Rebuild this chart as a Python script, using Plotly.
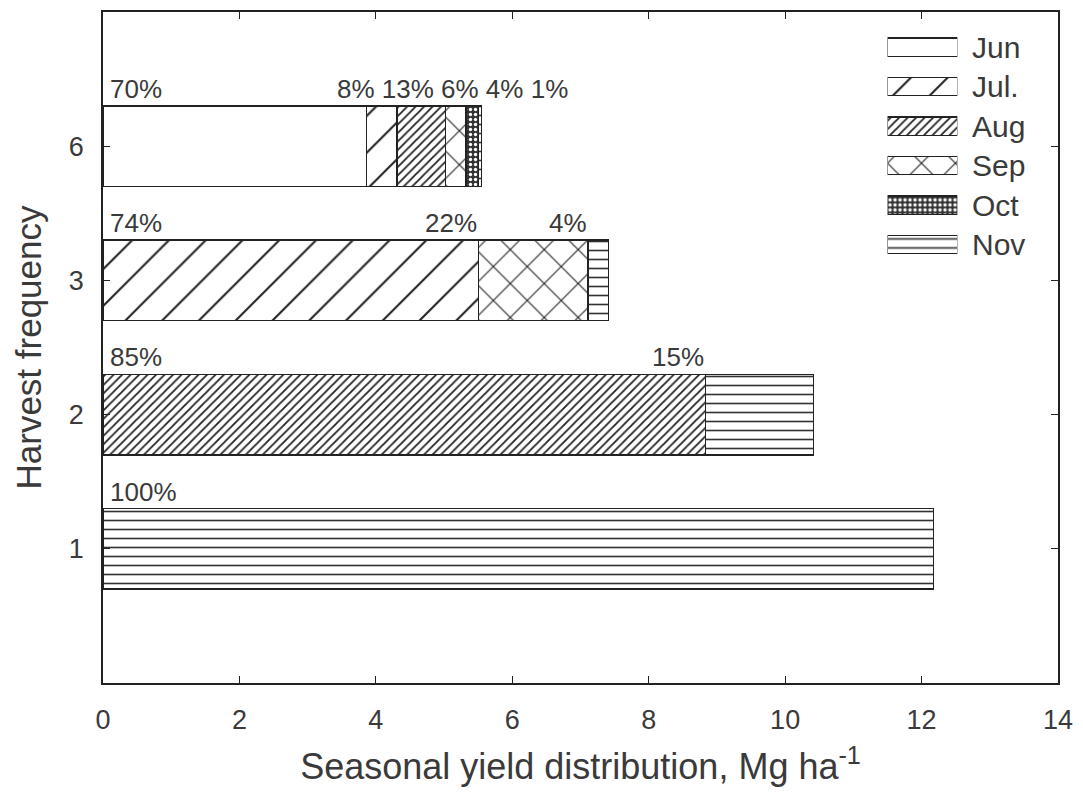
import plotly.graph_objects as go

# ---------------- data ----------------
freq_labels = ["1", "2", "3", "6"]          # harvest frequency categories
months = ["Jun", "Jul.", "Aug", "Sep", "Oct", "Nov"]

jun = [None, None, None, 3.86]
jul = [None, None, 5.50, 0.45]
aug = [None, 8.83, None, 0.71]
sep = [None, None, 1.61, 0.30]
octo = [None, None, None, 0.18]
nov = [12.17, 1.59, 0.30, 0.05]
series = [jun, jul, aug, sep, octo, nov]

pct_jun = [None, None, None, "70%"]
pct_jul = [None, None, "74%", "8%"]
pct_aug = [None, "85%", None, "13%"]
pct_sep = [None, None, "22%", "6%"]
pct_oct = [None, None, None, "4%"]
pct_nov = ["100%", "15%", "4%", "1%"]
pcts = [pct_jun, pct_jul, pct_aug, pct_sep, pct_oct, pct_nov]

# ---------------- styles ----------------
FONT = "Liberation Sans, Arial, sans-serif"
TXT = "#3a3a3a"
patterns = {
    "Jun": dict(shape="", bgcolor="white", fgcolor="#222"),
    "Jul.": dict(shape="/", size=26, solidity=0.08, bgcolor="white", fgcolor="#222"),
    "Aug": dict(shape="/", size=6, solidity=0.3, bgcolor="white", fgcolor="#222"),
    "Sep": dict(shape="x", size=24, solidity=0.09, bgcolor="white", fgcolor="#222"),
    "Oct": dict(shape=".", size=5, solidity=0.35, bgcolor="#333", fgcolor="white"),
    "Nov": dict(shape="-", size=9, solidity=0.18, bgcolor="white", fgcolor="#333"),
}

fig = go.Figure()
ypos = list(range(1, len(freq_labels) + 1))

for m, vals in zip(months, series):
    fig.add_trace(go.Bar(
        x=vals, y=ypos, orientation="h", width=0.6, name=m, showlegend=False,
        marker=dict(color="white", line=dict(color="#222", width=1.3),
                    pattern=dict(fillmode="replace", **patterns[m])),
        hoverinfo="skip",
    ))

# legend drawn as bars on a small inset axis
for i, m in enumerate(months):
    fig.add_trace(go.Bar(
        x=[1], y=[i], orientation="h", width=0.46, xaxis="x2", yaxis="y2",
        showlegend=False, hoverinfo="skip",
        marker=dict(color="white", line=dict(color="#222", width=1.3),
                    pattern=dict(fillmode="replace", **patterns[m])),
    ))
    fig.add_annotation(x=1, y=i, xref="x2", yref="y2", text=m, showarrow=False,
                       xanchor="left", xshift=13,
                       font=dict(family=FONT, size=30, color=TXT))

# percentage labels
for bi, yv in enumerate(ypos):
    cum = 0.0
    segs = []
    for vals, pl in zip(series, pcts):
        v = vals[bi]
        if v is not None:
            segs.append((cum, pl[bi]))
            cum += v
    # first label at bar start
    fig.add_annotation(x=segs[0][0], y=yv + 0.3, text=segs[0][1], showarrow=False,
                       xanchor="left", yanchor="bottom", xshift=5,
                       font=dict(family=FONT, size=26, color=TXT))
    rest = segs[1:]
    if len(rest) > 3:
        # crowded bar: labels written one after another
        fig.add_annotation(x=rest[0][0], y=yv + 0.3, text=" ".join(t for _, t in rest),
                           showarrow=False, xanchor="left", yanchor="bottom", xshift=-31,
                           font=dict(family=FONT, size=26, color=TXT))
    else:
        for start, t in rest:
            fig.add_annotation(x=start, y=yv + 0.3, text=t, showarrow=False,
                               xanchor="right", yanchor="bottom", xshift=1,
                               font=dict(family=FONT, size=26, color=TXT))

axis_common = dict(showline=True, linecolor="#222", linewidth=1.8, mirror="ticks",
                   ticks="inside", ticklen=7, tickcolor="#222", tickwidth=1.3,
                   showgrid=False, zeroline=False,
                   tickfont=dict(family=FONT, size=27, color=TXT))

fig.update_layout(
    width=1083, height=799,
    margin=dict(l=103, r=22, t=10, b=116),
    barmode="stack",
    plot_bgcolor="white", paper_bgcolor="white",
    xaxis=dict(range=[0, 14], tickvals=list(range(0, 15, 2)),
               ticklabelstandoff=12,
               title=dict(text="Seasonal yield distribution, Mg ha<sup>-1</sup>",
                          font=dict(family=FONT, size=36, color=TXT), standoff=20),
               **axis_common),
    yaxis=dict(range=[0, 5], tickvals=ypos, ticktext=freq_labels,
               ticklabelstandoff=12,
               title=dict(text="Harvest frequency",
                          font=dict(family=FONT, size=35, color=TXT), standoff=16),
               **axis_common),
    xaxis2=dict(domain=[0.8215, 0.8946], range=[0, 1], anchor="y2",
                visible=False, fixedrange=True),
    yaxis2=dict(domain=[0.624, 0.977], range=[5.5, -0.5], anchor="x2",
                visible=False, fixedrange=True),
)

fig.write_html("out.html")
